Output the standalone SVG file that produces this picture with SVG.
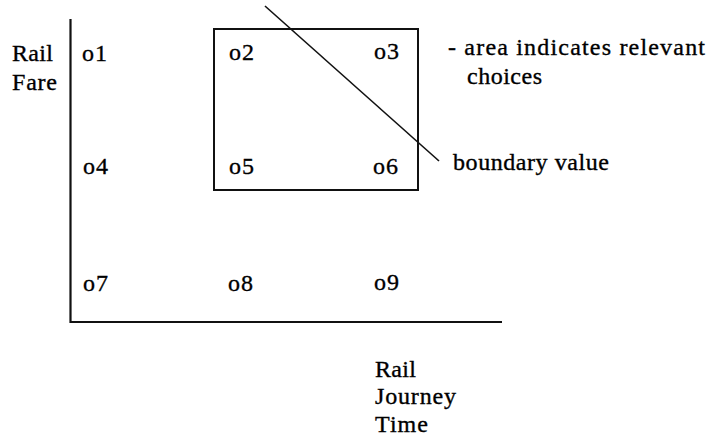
<svg xmlns="http://www.w3.org/2000/svg" width="711" height="439" viewBox="0 0 711 439">
<style>
text{font-family:"Liberation Serif","Times New Roman",serif;font-size:24px;fill:#000;stroke:#000;stroke-width:0.35}
.ax{stroke:#111;stroke-width:2.2;fill:none}
.bx{stroke:#111;stroke-width:2;fill:none}
.dg{stroke:#111;stroke-width:1.6;fill:none}
</style>
<rect width="711" height="439" fill="#fff"/>
<g id="axes">
<path class="ax" d="M70.5 19 V322 H502"/>
</g>
<g id="y-label"><text x="12" y="61" textLength="41">Rail</text><text x="12" y="90" textLength="45">Fare</text></g>
<g id="x-label"><text x="375" y="377" textLength="41">Rail</text><text x="375" y="404" textLength="81">Journey</text><text x="375" y="432" textLength="53">Time</text></g>
<g id="relevant-area"><rect class="bx" x="214" y="29" width="204" height="161"/></g>
<g id="o1"><text x="82" y="61" textLength="25">o1</text></g>
<g id="o2"><text x="229" y="60" textLength="25">o2</text></g>
<g id="o3"><text x="374" y="59" textLength="25">o3</text></g>
<g id="o4"><text x="83" y="174" textLength="25">o4</text></g>
<g id="o5"><text x="229" y="174" textLength="25">o5</text></g>
<g id="o6"><text x="373" y="174" textLength="25">o6</text></g>
<g id="o7"><text x="83" y="291" textLength="25">o7</text></g>
<g id="o8"><text x="228" y="291" textLength="25">o8</text></g>
<g id="o9"><text x="374" y="290" textLength="25">o9</text></g>
<g id="connectors">
<line class="dg" x1="265" y1="6" x2="439" y2="161"/>
</g>
<g id="area-note"><text x="448" y="55" textLength="257">- area indicates relevant</text><text x="467" y="84" textLength="75">choices</text></g>
<g id="boundary-note"><text x="453" y="170" textLength="156">boundary value</text></g>
</svg>
